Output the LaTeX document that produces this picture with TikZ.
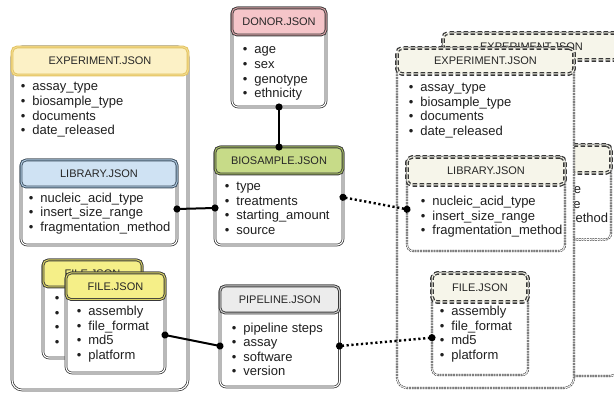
\documentclass[tikz,border=0pt]{standalone}
\usepackage{fontspec}
\setmainfont{Liberation Sans}
\usetikzlibrary{arrows.meta}
\definecolor{expfill}{HTML}{FCF1C6}
\definecolor{expdraw}{HTML}{E2C25E}
\definecolor{expdbl}{HTML}{F3DC92}
\definecolor{libfill}{HTML}{CFE2F3}
\definecolor{libdraw}{HTML}{3A4D5E}
\definecolor{libdbl}{HTML}{B4CDE3}
\definecolor{donfill}{HTML}{F5C5C9}
\definecolor{dondbl}{HTML}{DDA4A9}
\definecolor{biofill}{HTML}{C7DB88}
\definecolor{biodbl}{HTML}{A9C163}
\definecolor{filfill}{HTML}{F5EF88}
\definecolor{fildbl}{HTML}{DCD566}
\definecolor{pipfill}{HTML}{ECECEC}
\definecolor{pipdbl}{HTML}{CFCFCF}
\definecolor{ghfill}{HTML}{F6F5EA}
\definecolor{edge}{HTML}{383838}
\tikzset{
  body/.style={draw=edge, line width=0.75pt, double=white, double distance=1.1pt, fill=white,
    rounded corners=6pt, inner sep=0pt, outer sep=0pt, anchor=north west},
  bigbody/.style={body, rounded corners=10pt},
  ghostbody/.style={draw=edge, line width=0.6pt, double=white, double distance=0.9pt,
    dash pattern=on 1.8pt off 0.9pt, fill=white, rounded corners=6pt, inner sep=0pt,
    outer sep=0pt, anchor=north west},
  ghostbigbody/.style={ghostbody, rounded corners=10pt},
  hdr/.style={line width=0.9pt, double distance=1pt, rounded corners=5pt, inner sep=0pt,
    outer sep=0pt, anchor=north west, font=\fontsize{11}{13}\selectfont, text=black!85},
  exphdr/.style={hdr, fill=expfill, draw=expdraw, double=expdbl},
  libhdr/.style={hdr, fill=libfill, draw=libdraw, double=libdbl},
  donhdr/.style={hdr, fill=donfill, draw=edge, double=dondbl},
  biohdr/.style={hdr, fill=biofill, draw=edge, double=biodbl},
  filhdr/.style={hdr, fill=filfill, draw=edge, double=fildbl},
  piphdr/.style={hdr, fill=pipfill, draw=edge, double=pipdbl},
  ghosthdr/.style={hdr, fill=ghfill, draw=edge, double=ghfill, line width=1.3pt,
    double distance=1pt, dash pattern=on 4.5pt off 2.5pt},
  item/.style={anchor=base west, inner sep=0pt, font=\fontsize{13}{15}\selectfont, text=black!88},
  conn/.style={line width=2pt, black, {Circle[length=7pt]}-{Circle[length=7pt]},
    shorten <=-3.5pt, shorten >=-3.5pt},
  dotconn/.style={conn, dash pattern=on 2.2pt off 2.6pt, line width=2.4pt}
}
% name, x1, y1, x2, y2, header bottom, body style, header style, title
\newcommand\jbox[9]{%
  \node[#7, minimum width={#4pt-#2pt}, minimum height={#5pt-#3pt}] (#1) at (#2,#3) {};
  \node[#8, minimum width={#4pt-#2pt}, minimum height={#6pt-#3pt}] (#1-h) at (#2,#3) {#9};
}
% name, bullet centre x, first baseline y, list
\newcommand\jitems[4]{%
  \foreach \t [count=\i from 0] in {#4} {%
    \node[item] (#1-\i) at ({#2-2.3},{#3+14.6*\i}) {\makebox[11.5pt][l]{\textbullet}\t};}%
}
\newcommand\jbullets[4]{%
  \foreach \i in {0,...,#4} {%
    \node[item] (#1-b\i) at ({#2-2.3},{#3+14.6*\i}) {\textbullet};}%
}
\begin{document}
\begin{tikzpicture}[x=1pt,y=-1pt]
\useasboundingbox (0,0) rectangle (614,393);
\clip (0,0) rectangle (614,393);
\fill[white] (0,0) rectangle (614,393);

% ---------- left experiment ----------
\jbox{expL}{12}{47}{188}{390}{75}{bigbody}{exphdr}{EXPERIMENT.JSON}
\jitems{expL}{23}{91}{assay\_type,biosample\_type,documents,date\_released}
\jbox{libL}{21}{160}{177}{245}{187}{body}{libhdr}{LIBRARY.JSON}
\jitems{libL}{31}{202.3}{nucleic\_acid\_type,insert\_size\_range,fragmentation\_method}
\jbox{fileB}{43}{260}{142}{358}{287}{body}{filhdr}{FILE.JSON}
\jbullets{fileB}{57}{302.5}{3}
\jbox{fileF}{66}{273}{165}{373}{299.5}{body}{filhdr}{FILE.JSON}
\jitems{fileF}{79}{315.7}{assembly,file\_format,md5,platform}

% ---------- middle ----------
\jbox{don}{232}{8}{326}{107}{35}{body}{donhdr}{DONOR.JSON}
\jitems{don}{245}{54}{age,sex,genotype,ethnicity}
\jbox{bio}{215}{147}{343}{245}{174}{body}{biohdr}{BIOSAMPLE.JSON}
\jitems{bio}{227}{190.7}{type,treatments,starting\_amount,source}
\jbox{pip}{220}{286}{339.5}{387}{313}{body}{piphdr}{PIPELINE.JSON}
\jitems{pip}{234}{332}{pipeline steps,assay,software,version}

% ---------- right, back copy ----------
\jbox{expB}{443}{33}{620}{376}{60}{ghostbigbody}{ghosthdr}{EXPERIMENT.JSON}
\jbox{libB}{453}{145}{611}{239.5}{173}{ghostbody}{ghosthdr}{LIBRARY.JSON}
% visible ends of the back library's items
\node[item, anchor=base east] (libB-0) at (581.2,193.5) {e};
\node[item, anchor=base east] (libB-1) at (580.8,208.1) {e};
\node[item, anchor=base east] (libB-2) at (608.3,222.7) {ethod};

% ---------- right, front copy ----------
\jbox{expR}{397}{48}{574}{388}{74}{ghostbigbody}{ghosthdr}{EXPERIMENT.JSON}
\jitems{expR}{411}{91.5}{assay\_type,biosample\_type,documents,date\_released}
\jbox{libR}{407}{157}{565}{251}{185}{ghostbody}{ghosthdr}{LIBRARY.JSON}
\jitems{libR}{423}{205.5}{nucleic\_acid\_type,insert\_size\_range,fragmentation\_method}
\jbox{fileR}{432}{273}{528}{375}{302}{ghostbody}{ghosthdr}{FILE.JSON}
\jitems{fileR}{442}{315.5}{assembly,file\_format,md5,platform}

% ---------- connectors ----------
\draw[conn] (don.south) -- (bio.north);
\draw[conn] (libL.east |- 0,209) -- (bio.west |- 0,208);
\draw[dotconn] (bio.east |- 0,197.3) -- (libR.west |- 0,209.3);
\draw[conn] (fileF.east |- 0,335) -- (pip.west |- 0,346);
\draw[dotconn] (pip.east |- 0,346) -- (fileR.west |- 0,337.7);
\end{tikzpicture}
\end{document}
